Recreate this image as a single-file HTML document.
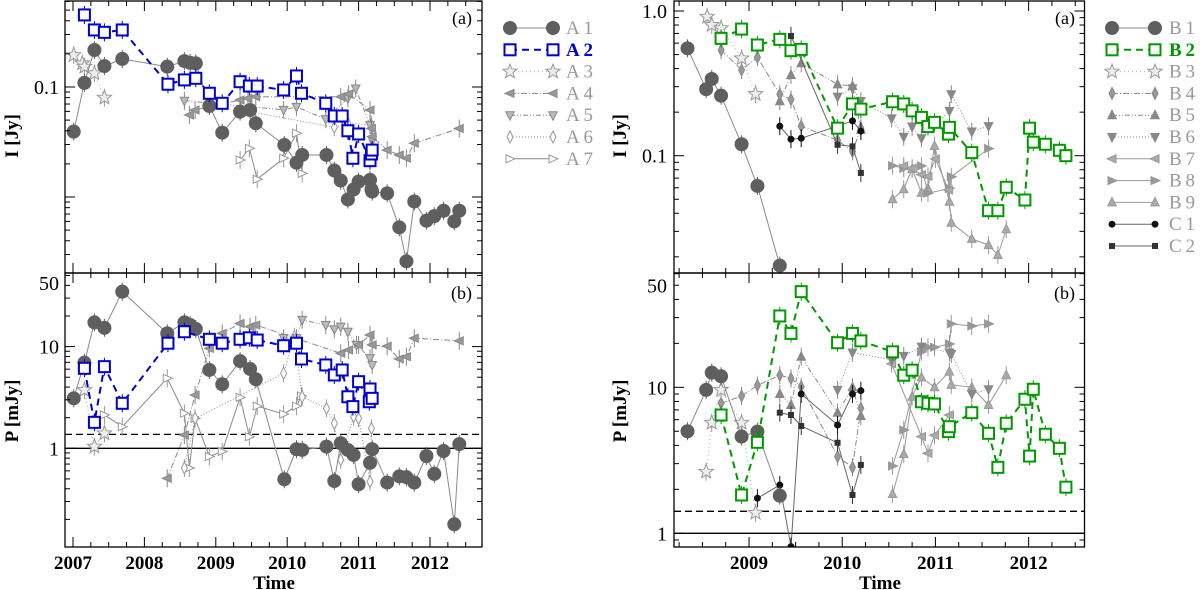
<!DOCTYPE html>
<html><head><meta charset="utf-8"><style>
html,body{margin:0;padding:0;background:#fff;}
svg{display:block;font-family:"Liberation Serif",serif;}
</style></head><body>
<svg id="chart" width="1200" height="590" viewBox="0 0 1200 590" xmlns="http://www.w3.org/2000/svg">
<defs>
<clipPath id="cLT"><rect x="65" y="1" width="417" height="272"/></clipPath>
<clipPath id="cLB"><rect x="65" y="273" width="417" height="274"/></clipPath>
<clipPath id="cRT"><rect x="674" y="1" width="410.5" height="272"/></clipPath>
<clipPath id="cRB"><rect x="674" y="273" width="410.5" height="274"/></clipPath>
</defs>
</svg>
<script>
// ===== Left panel data (time in years, I in Jy, P in mJy) =====
const A1_t=[2007.01,2007.16,2007.30,2007.44,2007.69,2008.32,2008.56,2008.64,2008.72,2008.91,2009.09,2009.34,2009.48,2009.56,2009.96,2010.13,2010.21,2010.55,2010.66,2010.75,2010.85,2010.93,2011.0,2011.16,2011.18,2011.19,2011.40,2011.57,2011.67,2011.78,2011.95,2012.06,2012.19,2012.34,2012.41];
const A1_I=[0.0393,0.109,0.217,0.155,0.18,0.153,0.172,0.166,0.164,0.0672,0.0384,0.0597,0.0618,0.0468,0.0297,0.0205,0.0241,0.0241,0.0174,0.0141,0.0095,0.0117,0.0138,0.0143,0.0117,0.0112,0.0108,0.0053,0.0026,0.0091,0.0061,0.0067,0.0075,0.006,0.0075];
const A1P_t=[2007.01,2007.16,2007.30,2007.44,2007.69,2008.32,2008.56,2008.64,2008.72,2008.91,2009.09,2009.34,2009.48,2009.56,2009.96,2010.13,2010.21,2010.55,2010.66,2010.75,2010.85,2010.93,2011.0,2011.16,2011.19,2011.40,2011.57,2011.67,2011.78,2011.95,2012.06,2012.19,2012.34,2012.41];
const A1_P=[3.1,6.95,17.3,15.3,34.7,13.5,17.3,16.3,14.9,5.89,4.26,7.2,6.03,4.77,0.496,0.98,0.963,1.04,0.477,1.12,0.963,0.86,0.443,0.72,0.98,0.46,0.53,0.52,0.46,0.84,0.56,0.94,0.179,1.1];
const A2_t=[2007.16,2007.30,2007.44,2007.69,2008.33,2008.56,2008.72,2008.91,2009.09,2009.34,2009.47,2009.58,2009.95,2010.13,2010.20,2010.54,2010.66,2010.77,2010.85,2010.92,2011.0,2011.16,2011.18,2011.19];
const A2_I=[0.452,0.33,0.314,0.33,0.106,0.116,0.12,0.0877,0.0711,0.1117,0.102,0.102,0.094,0.126,0.0877,0.0711,0.0545,0.0545,0.040,0.0225,0.0374,0.0214,0.0246,0.0267];
const A2P_t=[2007.16,2007.30,2007.44,2007.69,2008.33,2008.56,2008.91,2009.09,2009.34,2009.47,2009.58,2009.95,2010.13,2010.20,2010.54,2010.66,2010.77,2010.85,2010.92,2011.0,2011.15,2011.16,2011.19];
const A2_P=[6.12,1.8,6.35,2.77,10.8,14,11.8,10.8,11.8,12.2,11.6,10.2,10.8,7.55,6.6,5.26,5.89,3.21,2.57,4.52,2.87,3.83,3.1];
const A3_t=[2007.01,2007.13,2007.16,2007.30,2007.44];
const A3_I=[0.195,0.164,0.153,0.133,0.08];
const A3P_t=[2007.16,2007.30,2007.44];
const A3_P=[3.74,1.04,1.4];
const A4_t=[2008.63,2008.71,2009.34,2009.45,2009.56,2010.75,2010.86,2011.16,2011.18,2011.19,2011.40,2011.57,2011.67,2011.78,2012.41];
const A4_I=[0.0557,0.0618,0.0762,0.0789,0.0816,0.0816,0.0864,0.0618,0.042,0.0354,0.0267,0.0241,0.0225,0.0308,0.042];
const A4P_t=[2008.32,2008.56,2008.71,2008.91,2009.09,2009.34,2009.48,2009.56,2010.75,2010.86,2011.0,2011.16,2011.19,2011.40,2011.57,2011.67,2011.78,2012.41];
const A4_P=[0.507,1.35,3.34,9.6,13.5,16.9,15.7,16.3,8.6,9.26,10.4,13,10.4,10.1,7.55,7.95,12.1,11.4];
const A5_t=[2008.56,2009.95,2010.13,2010.54,2010.85,2010.96,2011.16,2011.19];
const A5_I=[0.075,0.062,0.066,0.051,0.079,0.097,0.045,0.033];
const A5P_t=[2009.95,2010.13,2010.21,2010.54,2010.66,2010.75,2010.85,2010.97,2011.16,2011.19];
const A5_P=[12.1,12.1,18.3,16.3,14.8,15.7,14,10.4,7.7,6.6];
const A6_t=[2009.35,2010.66,2010.85,2011.18,2011.19];
const A6_I=[0.062,0.043,0.047,0.045,0.033];
const A6P_t=[2008.56,2008.71,2009.95,2010.10,2010.21,2010.55,2010.66,2010.75,2010.93,2011.0,2011.16,2011.18];
const A6_P=[0.64,1.97,5.46,12.5,3.21,2.47,1.76,0.77,2.05,1.97,0.47,1.57];
const A7_t=[2009.34,2009.47,2009.58,2009.95,2010.13,2010.21];
const A7_I=[0.0217,0.0277,0.0145,0.0225,0.038,0.0164];
const A7P_t=[2007.44,2007.69,2008.32,2008.56,2008.63,2008.71,2008.91,2009.09,2009.34,2009.47,2009.58,2009.95,2010.13,2010.20];
const A7_P=[2.13,1.63,4.88,2.21,0.64,1.97,0.83,0.93,3.17,1.3,2.6,2.17,2.6,3.27];
// ===== Right panel data =====
const B1_t=[2008.34,2008.54,2008.60,2008.70,2008.92,2009.09,2009.33];
const B1_I=[0.552,0.288,0.339,0.26,0.12,0.0618,0.0174];
const B1_P=[5.0,9.6,12.6,11.9,4.6,4.97,1.81];
const B2_t=[2008.70,2008.92,2009.09,2009.33,2009.45,2009.56,2009.95,2010.11,2010.20,2010.54,2010.66,2010.75,2010.85,2010.92,2010.99,2011.14,2011.15,2011.39,2011.57,2011.67,2011.76,2011.96,2012.01,2012.05,2012.18,2012.33,2012.40];
const B2_I=[0.647,0.75,0.582,0.637,0.532,0.543,0.155,0.228,0.21,0.236,0.228,0.204,0.184,0.159,0.17,0.141,0.157,0.105,0.0417,0.0417,0.0605,0.0494,0.155,0.124,0.12,0.109,0.1];
const B2_P=[6.46,1.83,4.2,30.8,23.4,45.2,20.2,23.4,20.8,17.5,12.1,13.1,7.96,7.77,7.69,4.97,5.37,6.7,4.84,2.83,5.67,8.28,3.38,9.69,4.77,3.82,2.07];
const B3_t=[2008.55,2008.60,2008.70,2008.92,2009.07];
const B3_I=[0.913,0.80,0.76,0.471,0.267];
const B3P_t=[2008.54,2008.60,2008.70,2008.92,2009.07];
const B3_P=[2.64,5.72,9.6,5.72,1.38];
const B4_t=[2008.70,2008.92,2009.09,2009.33,2009.45,2009.56,2009.95,2010.11,2010.20];
const B4_I=[0.538,0.391,0.479,0.266,0.245,0.16,0.128,0.107,0.155];
const B4_P=[7.77,8.72,10.3,12.1,11.5,10.1,3.35,2.83,7.18];
const B5_t=[2009.33,2009.45,2009.56,2009.95,2010.11,2010.20];
const B5_I=[0.238,0.361,0.435,0.311,0.303,0.151];
const B5_P=[9.0,7.57,16.2,6.7,10,6.36];
const B6_t=[2009.95,2010.11,2010.20,2010.53,2010.66,2010.75,2010.85,2011.15,2011.17,2011.39,2011.57];
const B6_I=[0.256,0.292,0.239,0.181,0.135,0.159,0.132,0.204,0.266,0.147,0.16];
const B6P_t=[2009.95,2010.11,2010.53,2010.66,2010.85,2011.15,2011.17,2011.39,2011.57];
const B6_P=[9.6,17.3,15.4,16.4,19,17.3,16.9,9.0,9.69];
const B7_t=[2010.66,2010.75,2010.85,2010.92,2011.0,2011.14];
const B7_I=[0.085,0.082,0.074,0.072,0.095,0.058];
const B7P_t=[2010.53,2010.85,2010.92,2010.99,2011.15];
const B7_P=[14.5,4.6,3.53,4.7,6.46];
const B8_t=[2010.54,2010.66,2010.85,2010.92,2011.15,2011.17,2011.57];
const B8_I=[0.0853,0.0818,0.085,0.055,0.0595,0.0716,0.112];
const B8P_t=[2010.54,2010.66,2010.85,2010.92,2010.99,2011.15,2011.17,2011.39,2011.57];
const B8_P=[2.89,5.1,17.5,18.8,18.8,19.8,27.2,26.3,27.2];
const B9_t=[2010.54,2010.66,2010.75,2010.85,2010.92,2010.99,2011.15,2011.17,2011.39,2011.57,2011.67,2011.76];
const B9_I=[0.05,0.0586,0.081,0.0555,0.0595,0.117,0.0481,0.0344,0.0266,0.0241,0.0206,0.031];
const B9P_t=[2010.54,2010.66,2010.75,2010.85,2010.99,2011.15,2011.17,2011.39,2011.57,2011.76];
const B9_P=[1.86,3.49,8.62,11.7,10,12.8,10.4,10,7.57,12.1];
const C1_t=[2009.33,2009.45,2009.56,2010.11,2010.20];
const C1_I=[0.16,0.13,0.132,0.174,0.148];
const C1P_t=[2009.09,2009.33,2009.45,2009.56,2009.95,2010.11,2010.20];
const C1_P=[1.74,2.14,0.81,9.0,5.52,9.0,9.48];
const C2_t=[2009.45,2009.95,2010.11,2010.20];
const C2_I=[0.672,0.119,0.116,0.076];
const C2P_t=[2009.33,2009.45,2009.56,2009.95,2010.11,2010.20];
const C2_P=[6.7,6.46,5.43,4.17,1.83,2.94];
// axis tick label arrays
const leftTopTicks=[0.1];
const leftBotTicks=[1,10,50];
const rightTopTicks=[0.1,1.0];
const rightBotTicks=[1,10,50];
const leftYears=[2007,2008,2009,2010,2011,2012];
const rightYears=[2009,2010,2011,2012];

const NS="http://www.w3.org/2000/svg";
const svg=document.getElementById('chart');
function el(tag,attrs,parent){const e=document.createElementNS(NS,tag);for(const k in attrs)e.setAttribute(k,attrs[k]);(parent||svg).appendChild(e);return e;}

function panel(x0,x1,T0,pxYr,y0,y1,Yref,dec){
  return {x0,x1,y0,y1,xs:t=>x0+(t-T0)*pxYr,ys:v=>Yref-dec*Math.log10(v),
    tMin:T0,tMax:T0+(x1-x0)/pxYr,vMin:Math.pow(10,(Yref-y1)/dec),vMax:Math.pow(10,(Yref-y0)/dec)};
}
const LT=panel(65,482,2006.888,71.4,1,273,87-110,110);
const LB=panel(65,482,2006.888,71.4,273,547,448.3,101.7);
const RT=panel(674,1084.5,2008.195,93.2,1,273,11,144.7);
const RB=panel(674,1084.5,2008.195,93.2,273,547,533.3,146);

function drawFrame(p,name){
  const g=el('g',{});
  
  
  el('rect',{x:p.x0,y:p.y0,width:p.x1-p.x0,height:p.y1-p.y0,fill:'none',stroke:'#000','stroke-width':1.3},g);
  for(let q=Math.ceil(p.tMin*4);q<=Math.floor(p.tMax*4);q++){
    const t=q/4,x=p.xs(t),L=(q%4===0)?10:5;
    el('line',{x1:x,x2:x,y1:p.y1,y2:p.y1-L,stroke:'#000','stroke-width':1},g);
    el('line',{x1:x,x2:x,y1:p.y0,y2:p.y0+L,stroke:'#000','stroke-width':1},g);
  }
  for(let d=-4;d<=2;d++)for(let m=1;m<=9;m++){
    const v=m*Math.pow(10,d);if(v<p.vMin||v>p.vMax)continue;
    const y=p.ys(v),L=(m===1)?10:5;
    el('line',{x1:p.x0,x2:p.x0+L,y1:y,y2:y,stroke:'#000','stroke-width':1},g);
    el('line',{x1:p.x1,x2:p.x1-L,y1:y,y2:y,stroke:'#000','stroke-width':1},g);
  }
}

function marker(g,type,x,y,st){
  let e;const f=st.fill,s=st.stroke,w=st.sw||1;
  if(type==='circle')e=el('circle',{cx:x,cy:y,r:6.5,fill:f,stroke:s,'stroke-width':w},g);
  else if(type==='dot')e=el('circle',{cx:x,cy:y,r:3,fill:f,stroke:s,'stroke-width':w},g);
  else if(type==='square')e=el('rect',{x:x-5.5,y:y-5.5,width:11,height:11,fill:f,stroke:s,'stroke-width':w},g);
  else if(type==='sq')e=el('rect',{x:x-2.5,y:y-2.5,width:5,height:5,fill:f,stroke:s,'stroke-width':w},g);
  else if(type==='star'){let pts=[];for(let i=0;i<10;i++){const a=-Math.PI/2+i*Math.PI/5,r=i%2?3.2:7.5;pts.push((x+r*Math.cos(a)).toFixed(1)+','+(y+r*Math.sin(a)).toFixed(1));}
    e=el('polygon',{points:pts.join(' '),fill:f,stroke:s,'stroke-width':w},g);}
  else if(type==='diamond')e=el('polygon',{points:`${x},${y-6} ${x+3},${y} ${x},${y+6} ${x-3},${y}`,fill:f,stroke:s,'stroke-width':w},g);
  else{const r=5;let pts;
    if(type==='tl')pts=`${x-r},${y} ${x+r*0.8},${y-r*0.8} ${x+r*0.8},${y+r*0.8}`;
    if(type==='tr')pts=`${x+r},${y} ${x-r*0.8},${y-r*0.8} ${x-r*0.8},${y+r*0.8}`;
    if(type==='tu')pts=`${x},${y-r} ${x-r*0.85},${y+r*0.7} ${x+r*0.85},${y+r*0.7}`;
    if(type==='td')pts=`${x},${y+r} ${x-r*0.85},${y-r*0.7} ${x+r*0.85},${y-r*0.7}`;
    e=el('polygon',{points:pts,fill:f,stroke:s,'stroke-width':w},g);}
  return e;
}

function series(p,clip,name,ts,vs,st){
  const g=el('g',{'clip-path':'url(#'+clip+')'});
  
  
  const idx=ts.map((t,i)=>i).sort((a,b)=>ts[a]-ts[b]);
  const d=idx.map((i,k)=>(k?'L':'M')+p.xs(ts[i]).toFixed(1)+','+p.ys(vs[i]).toFixed(1)).join(' ');
  el('path',{d:d,fill:'none',stroke:st.line,'stroke-width':st.lw||1,'stroke-dasharray':st.dash||'none'},g);
  ts.forEach((t,i)=>{const x=p.xs(t),y=p.ys(vs[i]);
    el('line',{x1:x,x2:x,y1:y-9,y2:y+9,stroke:st.eb||st.stroke,'stroke-width':1},g);});
  ts.forEach((t,i)=>{const m=marker(g,st.m,p.xs(t),p.ys(vs[i]),st);
    
    });
}

const G='#8a8a8a';
const ST={
 A1:{m:'circle',fill:'#5f5f5f',stroke:'#5f5f5f',line:G,eb:'#5f5f5f'},
 A2:{m:'square',fill:'#fff',stroke:'#0000cc',sw:2,line:'#0000cc',lw:2,dash:'7,5'},
 A3:{m:'star',fill:'#eeeeee',stroke:'#999',line:'#aaa',dash:'1,3'},
 A4:{m:'tl',fill:'#999',stroke:'#888',line:G,dash:'6,2,1,2'},
 A5:{m:'td',fill:'#bbb',stroke:'#888',line:G,dash:'5,2,1,2,1,2'},
 A6:{m:'diamond',fill:'#fff',stroke:'#999',line:G,dash:'1,2'},
 A7:{m:'tr',fill:'#fff',stroke:'#999',line:G},
 B1:{m:'circle',fill:'#5f5f5f',stroke:'#5f5f5f',line:G,eb:'#5f5f5f'},
 B2:{m:'square',fill:'#fff',stroke:'#009900',sw:2,line:'#009900',lw:2,dash:'7,5'},
 B3:{m:'star',fill:'#eeeeee',stroke:'#999',line:'#aaa',dash:'1,3'},
 B4:{m:'diamond',fill:'#999',stroke:'#888',line:G,dash:'6,2,1,2'},
 B5:{m:'tu',fill:'#888',stroke:'#888',line:G,dash:'5,2,1,2,1,2'},
 B6:{m:'td',fill:'#888',stroke:'#888',line:G,dash:'1,2'},
 B7:{m:'tl',fill:'#aaa',stroke:'#999',line:'#999'},
 B8:{m:'tr',fill:'#999',stroke:'#999',line:'#999'},
 B9:{m:'tu',fill:'#aaa',stroke:'#999',line:'#999'},
 C1:{m:'dot',fill:'#111',stroke:'#111',line:'#666'},
 C2:{m:'sq',fill:'#333',stroke:'#333',line:'#666'}
};

function hline(p,v,dash,name){const y=p.ys(v);const l=el('line',{x1:p.x0,x2:p.x1,y1:y,y2:y,stroke:'#000','stroke-width':1.3,'stroke-dasharray':dash});
 
 }
hline(LB,1,'none','left-unity-line');hline(LB,1.37,'7,4','left-detection-limit');
hline(RB,1,'none','right-unity-line');hline(RB,1.415,'7,4','right-detection-limit');

series(LT,'cLT','a7-intensity',A7_t,A7_I,ST.A7);
series(LT,'cLT','a6-intensity',A6_t,A6_I,ST.A6);
series(LT,'cLT','a5-intensity',A5_t,A5_I,ST.A5);
series(LT,'cLT','a4-intensity',A4_t,A4_I,ST.A4);
series(LT,'cLT','a3-intensity',A3_t,A3_I,ST.A3);
series(LT,'cLT','a1-intensity',A1_t,A1_I,ST.A1);
series(LT,'cLT','a2-intensity',A2_t,A2_I,ST.A2);
series(LB,'cLB','a7-polarized',A7P_t,A7_P,ST.A7);
series(LB,'cLB','a6-polarized',A6P_t,A6_P,ST.A6);
series(LB,'cLB','a5-polarized',A5P_t,A5_P,ST.A5);
series(LB,'cLB','a4-polarized',A4P_t,A4_P,ST.A4);
series(LB,'cLB','a3-polarized',A3P_t,A3_P,ST.A3);
series(LB,'cLB','a1-polarized',A1P_t,A1_P,ST.A1);
series(LB,'cLB','a2-polarized',A2P_t,A2_P,ST.A2);
series(RT,'cRT','b9-intensity',B9_t,B9_I,ST.B9);
series(RT,'cRT','b8-intensity',B8_t,B8_I,ST.B8);
series(RT,'cRT','b7-intensity',B7_t,B7_I,ST.B7);
series(RT,'cRT','b6-intensity',B6_t,B6_I,ST.B6);
series(RT,'cRT','b5-intensity',B5_t,B5_I,ST.B5);
series(RT,'cRT','b4-intensity',B4_t,B4_I,ST.B4);
series(RT,'cRT','b3-intensity',B3_t,B3_I,ST.B3);
series(RT,'cRT','c1-intensity',C1_t,C1_I,ST.C1);
series(RT,'cRT','c2-intensity',C2_t,C2_I,ST.C2);
series(RT,'cRT','b1-intensity',B1_t,B1_I,ST.B1);
series(RT,'cRT','b2-intensity',B2_t,B2_I,ST.B2);
series(RB,'cRB','b9-polarized',B9P_t,B9_P,ST.B9);
series(RB,'cRB','b8-polarized',B8P_t,B8_P,ST.B8);
series(RB,'cRB','b7-polarized',B7P_t,B7_P,ST.B7);
series(RB,'cRB','b6-polarized',B6P_t,B6_P,ST.B6);
series(RB,'cRB','b5-polarized',B5_t,B5_P,ST.B5);
series(RB,'cRB','b4-polarized',B4_t,B4_P,ST.B4);
series(RB,'cRB','b3-polarized',B3P_t,B3_P,ST.B3);
series(RB,'cRB','c1-polarized',C1P_t,C1_P,ST.C1);
series(RB,'cRB','c2-polarized',C2P_t,C2_P,ST.C2);
series(RB,'cRB','b1-polarized',B1_t,B1_P,ST.B1);
series(RB,'cRB','b2-polarized',B2_t,B2_P,ST.B2);

drawFrame(LT,'left-top');drawFrame(LB,'left-bottom');drawFrame(RT,'right-top');drawFrame(RB,'right-bottom');

function text(x,y,s,attrs,name){const t=el('text',Object.assign({x:x,y:y},attrs));t.textContent=s;
 
 return t;}
leftTopTicks.forEach(v=>text(59,LT.ys(v)+7,String(v),{'font-size':20,'text-anchor':'end'},'y-tick-label'));
leftBotTicks.forEach(v=>text(59,Math.max(LB.ys(v),283)+7,String(v),{'font-size':20,'text-anchor':'end'},'y-tick-label'));
rightTopTicks.forEach(v=>text(667,RT.ys(v)+7,v.toFixed(1),{'font-size':20,'text-anchor':'end'},'y-tick-label'));
rightBotTicks.forEach(v=>text(667,RB.ys(v)+7,String(v),{'font-size':20,'text-anchor':'end'},'y-tick-label'));
leftYears.forEach(y=>text(LB.xs(y),569,String(y),{'font-size':19,'text-anchor':'middle','font-weight':'bold'},'x-tick-label'));
rightYears.forEach(y=>text(RB.xs(y),569,String(y),{'font-size':19,'text-anchor':'middle','font-weight':'bold'},'x-tick-label'));
text(274,589,'Time',{'font-size':19,'text-anchor':'middle','font-weight':'bold'},'x-axis-title');
text(880,589,'Time',{'font-size':19,'text-anchor':'middle','font-weight':'bold'},'x-axis-title');
text(0,0,'I [Jy]',{'font-size':19,'text-anchor':'middle','font-weight':'bold',transform:'translate(18,136) rotate(-90)'},'y-axis-title-intensity');
text(0,0,'P [mJy]',{'font-size':19,'text-anchor':'middle','font-weight':'bold',transform:'translate(18,411) rotate(-90)'},'y-axis-title-polarized');
text(0,0,'I [Jy]',{'font-size':19,'text-anchor':'middle','font-weight':'bold',transform:'translate(626,136) rotate(-90)'},'y-axis-title-intensity');
text(0,0,'P [mJy]',{'font-size':19,'text-anchor':'middle','font-weight':'bold',transform:'translate(626,411) rotate(-90)'},'y-axis-title-polarized');
text(472,24,'(a)',{'font-size':18,'text-anchor':'end'},'panel-label-a');
text(472,299,'(b)',{'font-size':18,'text-anchor':'end'},'panel-label-b');
text(1075,24,'(a)',{'font-size':18,'text-anchor':'end'},'panel-label-a');
text(1075,299,'(b)',{'font-size':18,'text-anchor':'end'},'panel-label-b');

function legend(x1,x2,tx,y0,dy,items){
  items.forEach((it,i)=>{const y=y0+i*dy;const st=ST[it];
    const g=el('g',{});
    
    
    el('line',{x1:x1,x2:x2,y1:y,y2:y,stroke:st.line,'stroke-width':st.lw||1,'stroke-dasharray':st.dash||'none'},g);
    marker(g,st.m,x1,y,st);marker(g,st.m,x2,y,st);
    const col=it==='A2'?'#0000cc':(it==='B2'?'#009900':'#999');
    const t=el('text',{x:tx,y:y+6,'font-size':19,fill:col,'font-weight':(it==='A2'||it==='B2')?'bold':'normal'},g);
    t.textContent=it[0]+'\u2009'+it.slice(1);});
}
legend(510,553,566,28,21.8,['A1','A2','A3','A4','A5','A6','A7']);
legend(1112,1155,1169,28,21.8,['B1','B2','B3','B4','B5','B6','B7','B8','B9','C1','C2']);
</script>
</body></html>
